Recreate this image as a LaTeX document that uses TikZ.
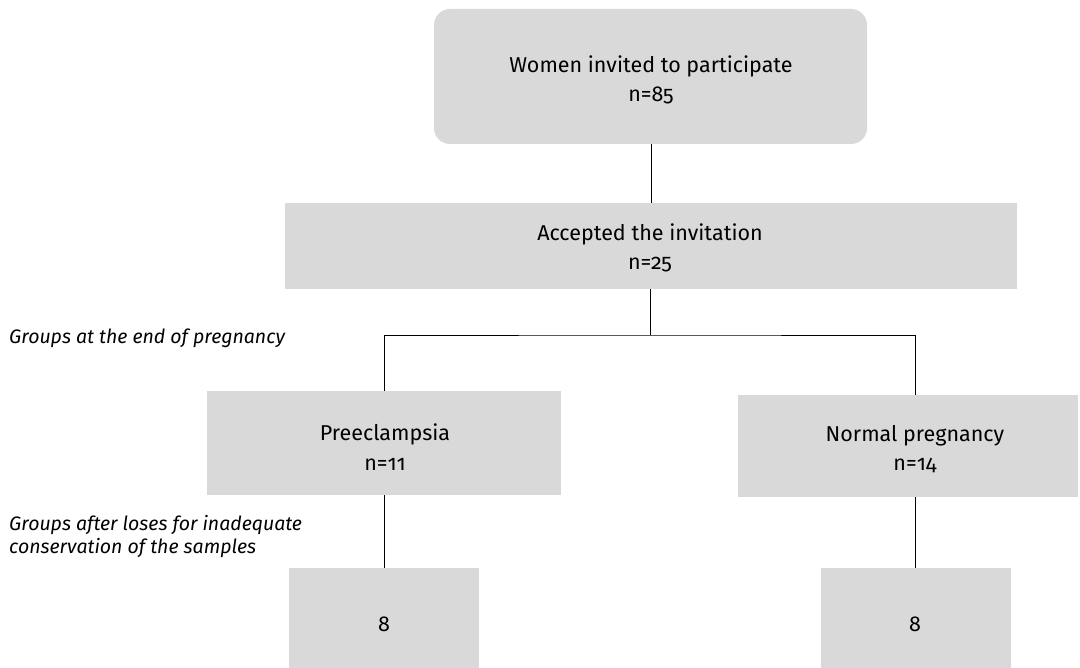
\documentclass[tikz,border=0pt]{standalone}
\usepackage{fontspec}
\setmainfont[Numbers=OldStyle]{Fira Sans}
\definecolor{boxgray}{HTML}{D9D9D9}
\begin{document}
\begin{tikzpicture}[x=1pt,y=-1pt,
  box/.style={fill=boxgray,draw=none,inner sep=0pt},
  txt/.style={align=center,font=\fontsize{21.5}{29.5}\selectfont,inner sep=0pt},
  side/.style={align=left,anchor=west,font=\fontsize{19.5}{23}\selectfont\itshape,inner sep=0pt},
  link/.style={draw=black,line width=0.9pt}]
\useasboundingbox (0,0) rectangle (1080,668);
\node[box,rounded corners=16pt,minimum width=433pt,minimum height=135pt] (top) at (650.5,76.5) {};
\node[txt] (toptext) at (651,80) {Women invited to participate\\n=85};
\node[box,minimum width=732pt,minimum height=86pt] (acc) at (651,246) {};
\node[txt] (acctext) at (650,248) {Accepted the invitation\\n=25};
\node[box,minimum width=354pt,minimum height=104pt] (pre) at (384,443) {};
\node[txt] (pretext) at (385,447) {Preeclampsia\\n=11};
\node[box,minimum width=340pt,minimum height=102pt] (norm) at (908,446) {};
\node[txt] (normtext) at (915,449) {Normal pregnancy\\n=14};
\node[box,minimum width=190pt,minimum height=100pt] (preb) at (384,618) {};
\node[txt] (prebtext) at (384,624) {8};
\node[box,minimum width=190pt,minimum height=100pt] (normb) at (916,618) {};
\node[txt] (normbtext) at (915,624) {8};
\node[side] (lab1) at (9,338) {Groups at the end of pregnancy};
\node[side] (lab2) at (9,537) {Groups after loses for inadequate\\conservation of the samples};
\coordinate (j) at (650,335);
\draw[link] (top.south -| 651,0) -- (acc.north -| 651,0);
\draw[link] (acc.south -| j) -- (j);
\draw[link] (pre.north) |- (j) -| (norm.north -| normtext);
\draw[link] (pre.south) -- (preb.north);
\draw[link] (norm.south -| normtext) -- (normb.north -| normtext);
\end{tikzpicture}
\end{document}
